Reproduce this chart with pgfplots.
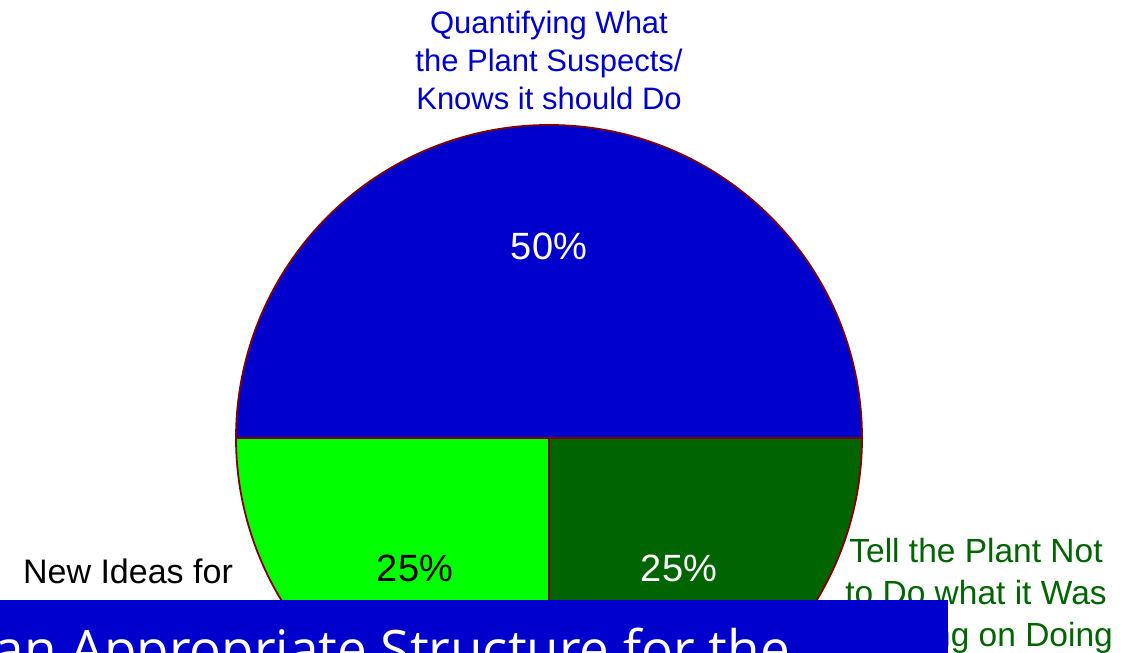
\documentclass[border=0pt]{standalone}
\usepackage{pgfplots}
\usepackage{pgfplotstable}
\pgfplotsset{compat=1.18}
\usepackage{fontspec}
\setmainfont{Liberation Sans}
\newfontfamily\bannerfont{Open Sans}
\definecolor{qblue}{RGB}{0,0,204}
\definecolor{lgreen}{RGB}{0,255,0}
\definecolor{dgreen}{RGB}{0,100,0}
\definecolor{edgered}{RGB}{128,0,0}

\pgfplotstableread{
share
50
25
25
}\piedata

\begin{document}
\begin{tikzpicture}
\pgfplotstablegetelem{0}{share}\of\piedata \pgfmathtruncatemacro{\sA}{\pgfplotsretval}
\pgfplotstablegetelem{1}{share}\of\piedata \pgfmathtruncatemacro{\sB}{\pgfplotsretval}
\pgfplotstablegetelem{2}{share}\of\piedata \pgfmathtruncatemacro{\sC}{\pgfplotsretval}
\pgfmathsetmacro{\aA}{0}
\pgfmathsetmacro{\aB}{\aA+3.6*\sA}
\pgfmathsetmacro{\aC}{\aB+3.6*\sB}
\pgfmathsetmacro{\aD}{\aC+3.6*\sC}
\begin{axis}[
  x=1pt, y=1pt,
  xmin=0, xmax=1143, ymin=0, ymax=653,
  hide axis, clip=false, scale only axis,
  at={(0,0)}, anchor=origin,
]
\addplot[draw=none] coordinates {(0,0) (1143,653)};
% sectors
\fill[qblue, draw=edgered, line width=1.8pt] (axis cs:549,215) -- ++(\aA:313pt) arc[start angle=\aA, end angle=\aB, radius=313pt] -- cycle;
\fill[lgreen, draw=edgered, line width=1.8pt] (axis cs:549,215) -- ++(\aB:313pt) arc[start angle=\aB, end angle=\aC, radius=313pt] -- cycle;
\fill[dgreen, draw=edgered, line width=1.8pt] (axis cs:549,215) -- ++(\aC:313pt) arc[start angle=\aC, end angle=\aD, radius=313pt] -- cycle;
% percentage labels
\node[white, font=\fontsize{38}{44}\selectfont] at (axis cs:549,407) {\sA\%};
\node[black, font=\fontsize{38}{44}\selectfont] at (axis cs:415,85) {\sB\%};
\node[white, font=\fontsize{38}{44}\selectfont] at (axis cs:679,85) {\sC\%};
% outer labels
\node[qblue, align=center, font=\fontsize{31}{38}\selectfont, inner sep=0pt] at (axis cs:549,593) {Quantifying What\\the Plant Suspects/\\Knows it should Do};
\node[black, align=center, font=\fontsize{34}{42}\selectfont, inner sep=0pt] at (axis cs:128,82) {New Ideas for};
\node[dgreen, align=center, font=\fontsize{33.5}{42}\selectfont, inner sep=0pt] at (axis cs:976,57) {Tell the Plant Not\\to Do what it Was\\Planning on Doing};
% banner
\fill[qblue] (axis cs:0,-20) rectangle (axis cs:948,53);
\node[white, anchor=base east, inner sep=0pt, font=\bannerfont\fontsize{53}{57}\selectfont] at (axis cs:790,-15) {an Appropriate Structure for the};
\end{axis}
\pgfresetboundingbox
\path (0,0) rectangle (1143pt,653pt);
\end{tikzpicture}
\end{document}
